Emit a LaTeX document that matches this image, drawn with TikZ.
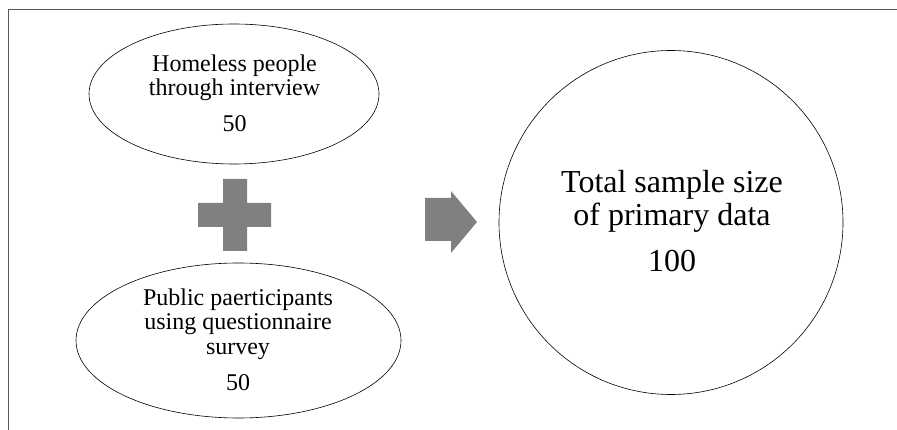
\documentclass[tikz,border=0pt]{standalone}
\usepackage{fontspec}
\setmainfont{Liberation Serif}
\usetikzlibrary{shapes.geometric}
\begin{document}
\begin{tikzpicture}[x=1pt,y=-1pt,
  shape line/.style={draw=black, line width=0.6pt},
  ovaltext/.style={anchor=base, inner sep=0pt, font=\fontsize{24}{24}\selectfont},
  bigtext/.style={anchor=base, inner sep=0pt, font=\fontsize{32}{32}\selectfont},
  symbolfill/.style={fill=black!50, draw=none}
]
\useasboundingbox (0,0) rectangle (897,430);
% frame
\coordinate (fbl) at (8,430);
\coordinate (ftl) at (8,9.5);
\coordinate (ftr) at (897,9.5);
\draw[draw=black!65, line width=1pt] (fbl) -- (ftl) -- (ftr);
% top ellipse
\node[shape line, ellipse, inner sep=0pt, minimum width=290pt, minimum height=140pt] (top) at (234,94) {};
\node[ovaltext] (t1) at (234.5,72) {Homeless people};
\node[ovaltext] (t2) at (234.5,95.5) {through interview};
\node[ovaltext] (t3) at (234.5,131.5) {50};
% bottom ellipse
\node[shape line, ellipse, inner sep=0pt, minimum width=325pt, minimum height=155pt] (bot) at (238.5,340.5) {};
\node[ovaltext] (b1) at (238,306) {Public paerticipants};
\node[ovaltext] (b2) at (238,329.5) {using questionnaire};
\node[ovaltext] (b3) at (238,354) {survey};
\node[ovaltext] (b4) at (238,390) {50};
% circle
\node[shape line, circle, inner sep=0pt, minimum size=344pt] (tot) at (671,222.5) {};
\node[bigtext] (c1) at (672,193) {Total sample size};
\node[bigtext] (c2) at (672,226) {of primary data};
\node[bigtext] (c3) at (672,272) {100};
% plus sign
\fill[symbolfill] (223,179) -- (247,179) -- (247,203) -- (271,203) -- (271,227) -- (247,227)
  -- (247,251) -- (223,251) -- (223,227) -- (198,227) -- (198,203) -- (223,203) -- cycle;
% arrow
\fill[symbolfill] (425,198) -- (451,198) -- (451,191) -- (477,222) -- (451,253) -- (451,241) -- (425,241) -- cycle;
\end{tikzpicture}
\end{document}
